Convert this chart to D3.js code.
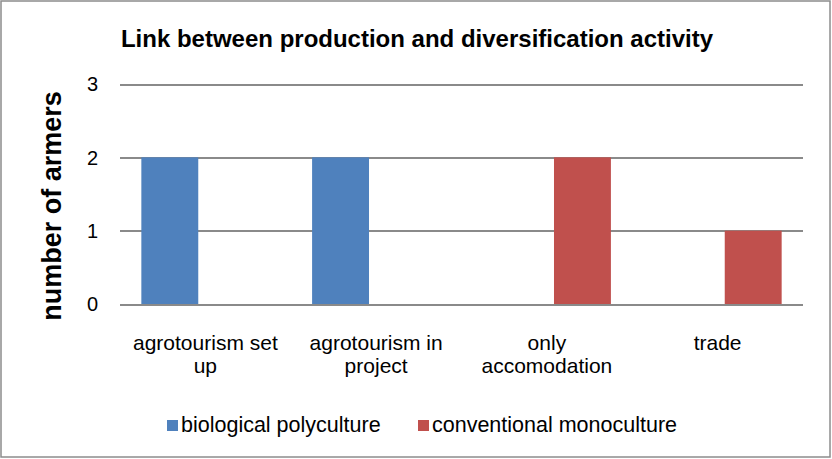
<!DOCTYPE html>
<meta charset="utf-8">
<head>
<style>
body { margin: 0; background: #fff; }
svg text { font-family: "Liberation Sans", Arial, sans-serif; fill: #000; }
.grid line { stroke: #8a8a8a; stroke-width: 2; shape-rendering: crispEdges; }
.grid path { display: none; }
</style>
</head>
<body>
<script src="https://d3js.org/d3.v7.min.js"></script>
<script>

var categories = [["agrotourism set", "up"], ["agrotourism in", "project"], ["only", "accomodation"], ["trade"]];
var seriesNames = ["biological polyculture", "conventional monoculture"];
var biological = [2, 2, 0, 0];
var conventional = [0, 0, 2, 1];
var yTicks = [0, 1, 2, 3];
var colors = ["#4f81bd", "#c0504d"];

var width = 832, height = 459;
var plot = {left: 120, right: 803, top: 84, bottom: 304};

var svg = d3.select("body").append("svg")
    .attr("width", width)
    .attr("height", height);

svg.append("rect")
    .attr("x", 1).attr("y", 1)
    .attr("width", width - 3).attr("height", height - 3)
    .style("fill", "#fff")
    .style("stroke", "#8c8c8c")
    .style("stroke-width", 1.5);

var catKeys = categories.map(function(d) { return d.join(" "); });

var x0 = d3.scaleBand().domain(catKeys).range([plot.left, plot.right]);
var x1 = d3.scaleBand().domain(seriesNames).range([0, x0.bandwidth()])
    .paddingInner(0.2).paddingOuter(0.3);
var y = d3.scaleLinear().domain([0, 3]).range([plot.bottom, plot.top]);

// gridlines
svg.append("g")
    .attr("class", "grid")
    .attr("transform", "translate(" + plot.left + ",0)")
    .call(d3.axisLeft(y).tickValues(yTicks).tickSize(-(plot.right - plot.left)).tickFormat(""));

// y tick labels
svg.selectAll(".ylab")
    .data(yTicks)
  .enter().append("text")
    .attr("class", "ylab")
    .attr("x", 98)
    .attr("y", function(d) { return y(d); })
    .attr("dy", "0.36em")
    .style("text-anchor", "end")
    .style("font-size", "20px")
    .text(function(d) { return d; });

// bars
var rows = catKeys.map(function(k, i) {
  return {cat: k, values: [biological[i], conventional[i]]};
});

var groups = svg.selectAll(".cat")
    .data(rows)
  .enter().append("g")
    .attr("class", "cat")
    .attr("transform", function(d) { return "translate(" + x0(d.cat) + ",0)"; });

groups.selectAll("rect")
    .data(function(d) { return d.values.map(function(v, j) { return {s: seriesNames[j], v: v, j: j}; }); })
  .enter().append("rect")
    .attr("x", function(d) { return x1(d.s); })
    .attr("width", x1.bandwidth())
    .attr("y", function(d) { return y(d.v); })
    .attr("height", function(d) { return y(0) - y(d.v); })
    .style("fill", function(d) { return colors[d.j]; });

// category labels
svg.selectAll(".xlab")
    .data(categories)
  .enter().append("text")
    .attr("class", "xlab")
    .attr("x", function(d, i) { return x0(catKeys[i]) + x0.bandwidth() / 2; })
    .attr("y", 350)
    .style("text-anchor", "middle")
    .style("font-size", "21px")
    .each(function(d) {
      var t = d3.select(this);
      d.forEach(function(line, k) {
        t.append("tspan")
          .attr("x", t.attr("x"))
          .attr("dy", k === 0 ? 0 : 23)
          .text(line);
      });
    });

// title
svg.append("text")
    .attr("x", 417)
    .attr("y", 47)
    .style("text-anchor", "middle")
    .style("font-size", "24px")
    .style("font-weight", "bold")
    .text("Link between production and diversification activity");

// y axis title
svg.append("text")
    .attr("transform", "translate(61,206) rotate(-90)")
    .style("text-anchor", "middle")
    .style("font-size", "27px")
    .style("font-weight", "bold")
    .text("number of armers");

// legend
var legendX = [167, 418];
var legend = svg.selectAll(".legend")
    .data(seriesNames)
  .enter().append("g")
    .attr("class", "legend")
    .attr("transform", function(d, i) { return "translate(" + legendX[i] + ",420)"; });

legend.append("rect")
    .attr("width", 11).attr("height", 11)
    .style("fill", function(d, i) { return colors[i]; });

legend.append("text")
    .attr("x", 14)
    .attr("y", 12)
    .style("font-size", "21.5px")
    .text(function(d) { return d; });

</script>
</body>
